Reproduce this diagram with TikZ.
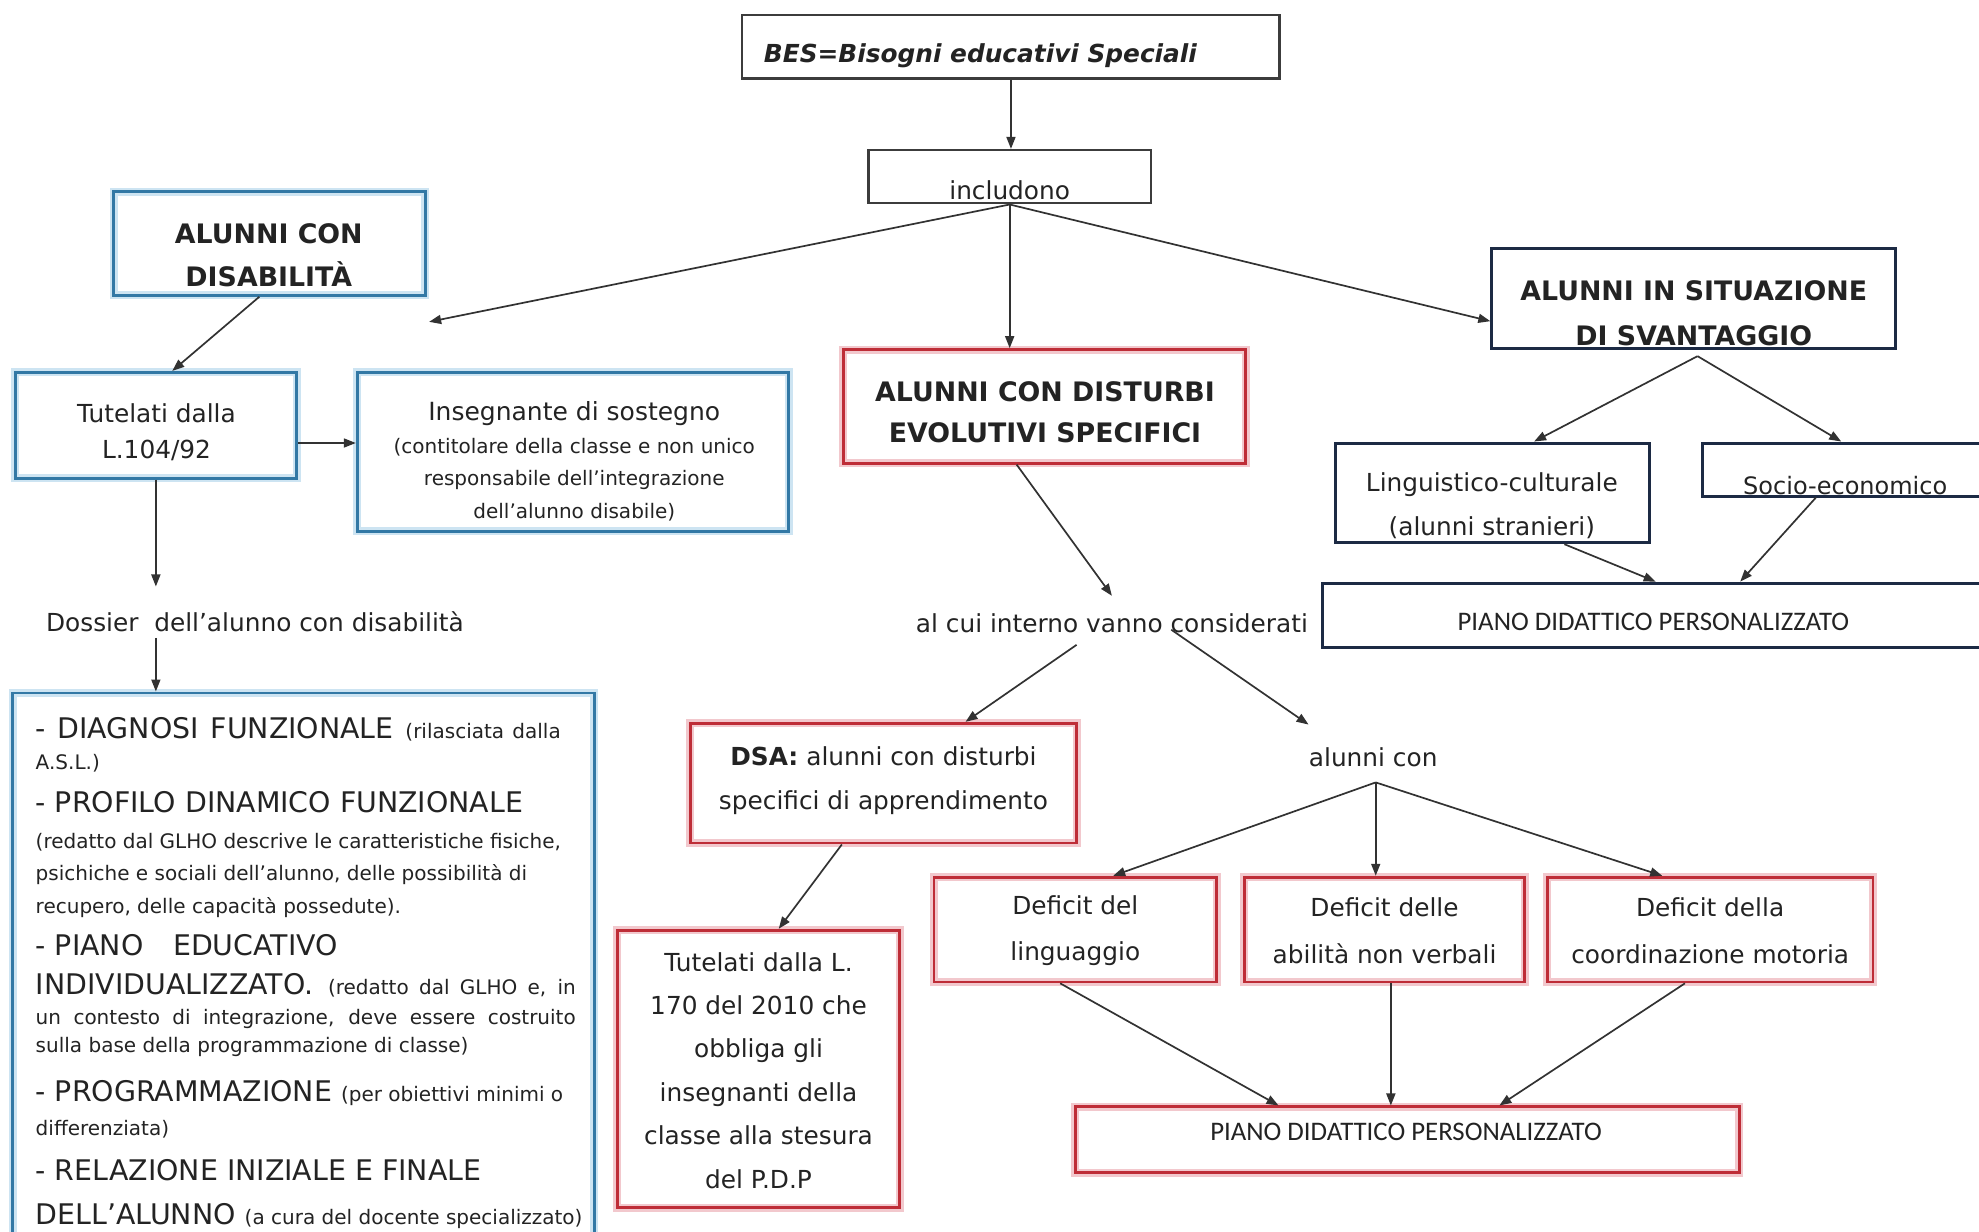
\documentclass[tikz,border=0pt]{standalone}
\usepackage{fontspec}
\setmainfont{DejaVu Sans}
\newfontfamily\calib{Carlito}
\usetikzlibrary{arrows.meta,calc}
\definecolor{bl}{RGB}{50,120,165}
\definecolor{blh}{RGB}{205,228,242}
\definecolor{rd}{RGB}{190,45,55}
\definecolor{rdh}{RGB}{242,200,205}
\definecolor{nv}{RGB}{28,42,68}
\definecolor{gr}{RGB}{60,60,60}
\definecolor{tx}{RGB}{35,35,35}
\definecolor{ln}{RGB}{50,50,50}
\newcommand\bigc{\fontsize{14.2}{17}\selectfont}
\newcommand\smc{\fontsize{10}{12}\selectfont}
\begin{document}
\begin{tikzpicture}[x=0.631pt,y=-0.631pt,
  bx/.style 2 args={draw, rectangle, inner sep=0pt, minimum width=#1*0.631pt, minimum height=#2*0.631pt},
  bluebox/.style={line width=1.4pt, draw=bl, preaction={draw=blh, line width=4pt}},
  redbox/.style={line width=1.4pt, draw=rd, preaction={draw=rdh, line width=4pt}},
  navybox/.style={line width=1.5pt, draw=nv},
  graybox/.style={line width=1.3pt, draw=gr},
  txt/.style={inner sep=0pt, text=tx, align=center},
  reg/.style={font=\fontsize{12.4}{#1}\selectfont},
  bld/.style={font=\bfseries\fontsize{13.4}{#1}\selectfont},
  line/.style={inner sep=0pt, text=tx, anchor=base west},
  arr/.style={draw=ln, line width=0.85pt, -{Triangle[length=6pt,width=4.5pt]}}
]
\useasboundingbox (0,0) rectangle (1568,976);
\fill[white] (0,0) rectangle (1568,976);
\clip (0,0) rectangle (1568,976);

% ---------- boxes ----------
\node[bx={426}{50}, graybox] (bes) at (801,37) {};
\node[bx={224}{42}, graybox] (inc) at (800,140) {};
\node[bx={247}{82}, bluebox] (acd) at (213.5,193) {};
\node[bx={223}{84}, bluebox] (tut) at (123.5,337) {};
\node[bx={342}{126}, bluebox] (ins) at (454,358) {};
\node[bx={461}{451}, bluebox] (big) at (240.5,774.5) {};
\node[bx={319}{90}, redbox] (des) at (827.5,322) {};
\node[bx={306}{95}, redbox] (dsa) at (700,620.5) {};
\node[bx={224}{220}, redbox] (t170) at (601,847) {};
\node[bx={224}{83}, redbox] (d1) at (852,736.5) {};
\node[bx={222}{83}, redbox] (d2) at (1097,736.5) {};
\node[bx={258}{83}, redbox] (d3) at (1355,736.5) {};
\node[bx={526}{52}, redbox] (pdp2) at (1115,903) {};
\node[bx={320}{79}, navybox] (svan) at (1342,236.5) {};
\node[bx={249}{79}, navybox] (ling) at (1182.5,390.5) {};
\node[bx={251}{42}, navybox] (soc) at (1474.5,372) {};
\node[bx={552}{51}, navybox] (pdp1) at (1324,487.5) {};

% ---------- texts ----------
\node[txt, anchor=west, font=\bfseries\itshape\fontsize{12.4}{15}\selectfont] (best) at (605,44) {BES=Bisogni educativi Speciali};
\node[txt, reg=15] (inct) at (800,151) {includono};
\node[txt, bld=21.5] (acdt) at (213,202) {ALUNNI CON\\DISABILITÀ};
\node[txt, reg=18.3] (tutt) at (124,342.5) {Tutelati dalla\\L.104/92};
\node[txt, font=\fontsize{12.5}{15}\selectfont] (inst) at (455,328) {Insegnante di sostegno};
\node[txt, font=\fontsize{10}{16.4}\selectfont] (inss) at (455,380) {(contitolare della classe e non unico\\responsabile dell'integrazione\\dell'alunno disabile)};
\node[txt, reg=15] (dost) at (202,493) {Dossier\ \ dell'alunno con disabilità};

\node[line] (l1) at (28,585) {\makebox[262.5pt][s]{\bigc - DIAGNOSI FUNZIONALE \smc (rilasciata dalla}};
\node[line, font=\smc] (l2) at (28,610) {A.S.L.)};
\node[line, font=\bigc] (l3) at (28,644) {- PROFILO DINAMICO FUNZIONALE};
\node[line, font=\smc] (l4) at (28,672) {(redatto dal GLHO descrive le caratteristiche fisiche,};
\node[line, font=\smc] (l5) at (28,698) {psichiche e sociali dell'alunno, delle possibilità di};
\node[line, font=\smc] (l6) at (28,724) {recupero, delle capacità possedute).};
\node[line] (l7) at (28,757) {\makebox[151pt][l]{\bigc - PIANO\hfill EDUCATIVO}};
\node[line] (l8) at (28,788) {\makebox[270pt][s]{\bigc INDIVIDUALIZZATO. \smc (redatto dal GLHO e, in}};
\node[line] (l9) at (28,812) {\makebox[270pt][s]{\smc un contesto di integrazione, deve essere costruito}};
\node[line, font=\smc] (l10) at (28,834) {sulla base della programmazione di classe)};
\node[line] (l11) at (28,873) {\bigc - PROGRAMMAZIONE \smc (per obiettivi minimi o};
\node[line, font=\smc] (l12) at (28,900) {differenziata)};
\node[line, font=\bigc] (l13) at (28,935) {- RELAZIONE INIZIALE E FINALE};
\node[line] (l14) at (28,970) {\bigc DELL'ALUNNO \smc (a cura del docente specializzato)};

\node[txt, bld=20.8] (dest) at (828,326.5) {ALUNNI CON DISTURBI\\EVOLUTIVI SPECIFICI};
\node[txt, reg=15] (alct) at (881,494) {al cui interno vanno considerati};
\node[txt, reg=22] (dsat) at (700,618.5) {\textbf{DSA:} alunni con disturbi\\specifici di apprendimento};
\node[txt, reg=21.7] (t170t) at (601,848) {Tutelati dalla L.\\170 del 2010 che\\obbliga gli\\insegnanti della\\classe alla stesura\\del P.D.P};
\node[txt, reg=15] (alc2t) at (1088,600) {alunni con};
\node[txt, reg=23.3] (d1t) at (852,737.5) {Deficit del\\linguaggio};
\node[txt, reg=23.3] (d2t) at (1097,737.5) {Deficit delle\\abilità non verbali};
\node[txt, reg=23.3] (d3t) at (1355,737.5) {Deficit della\\coordinazione motoria};
\node[txt, font=\calib\fontsize{13.4}{16}\selectfont] (pdp2t) at (1114,897) {PIANO DIDATTICO PERSONALIZZATO};
\node[txt, bld=22.7] (svant) at (1342,248) {ALUNNI IN SITUAZIONE\\DI SVANTAGGIO};
\node[txt, reg=22] (lingt) at (1182,400.5) {Linguistico-culturale\\(alunni stranieri)};
\node[txt, font=\fontsize{12}{15}\selectfont] (soct) at (1462,385) {Socio-economico};
\node[txt, font=\calib\fontsize{13.4}{16}\selectfont] (pdp1t) at (1310,493) {PIANO DIDATTICO PERSONALIZZATO};

% ---------- connectors ----------
\coordinate (fl) at (340,255);
\draw[arr] (bes.south) -- (bes.south |- inc.north);
\draw[arr] (inc.south) -- (fl);
\draw[arr] (inc.south) -- (inc.south |- des.north);
\draw[arr] (inc.south) -- ($(svan.west)+(0,18)$);
\draw[arr] ($(acd.south)+(-8,0)$) -- ($(tut.north)+(13,0)$);
\draw[arr] ($(tut.east)+(0,14)$) -- ($(ins.west)+(0,-7)$);
\draw[arr] (tut.south) -- ($(tut.south |- dost.north)+(0,-20)$);
\draw[arr] ($(tut.south |- dost.south)+(0,4)$) -- (tut.south |- big.north);
\draw[arr] ($(des.south)+(-22,0)$) -- ($(alct.north)+(0,-14)$);
\draw[arr] ($(alct.south)+(-28,9)$) -- ($(dsa.north)+(65,0)$);
\draw[arr] ($(alct.south)+(47,-3)$) -- ($(alc2t.north west)+(0,-18)$);
\draw[arr] ($(dsa.south)+(-33,0)$) -- ($(t170.north)+(16,0)$);
\coordinate (hub) at ($(alc2t.south)+(2,12)$);
\draw[arr] (hub) -- ($(d1.north)+(30,0)$);
\draw[arr] (hub) -- (hub |- d2.north);
\draw[arr] (hub) -- ($(d3.north)+(-38,0)$);
\draw[arr] ($(d1.south)+(-12,0)$) -- ($(pdp2.north)+(-102,0)$);
\draw[arr] ($(d2.south)+(5,0)$) -- ($(pdp2.north)+(-13,0)$);
\draw[arr] ($(d3.south)+(-20,0)$) -- ($(pdp2.north)+(73,0)$);
\coordinate (sv) at ($(svan.south)+(3,5)$);
\draw[arr] (sv) -- ($(ling.north)+(33,0)$);
\draw[arr] (sv) -- ($(soc.north west)+(111,0)$);
\draw[arr] ($(ling.south)+(57,0)$) -- ($(pdp1.north west)+(265,0)$);
\draw[arr] ($(soc.south west)+(91,0)$) -- ($(pdp1.north west)+(332,0)$);
\end{tikzpicture}
\end{document}
